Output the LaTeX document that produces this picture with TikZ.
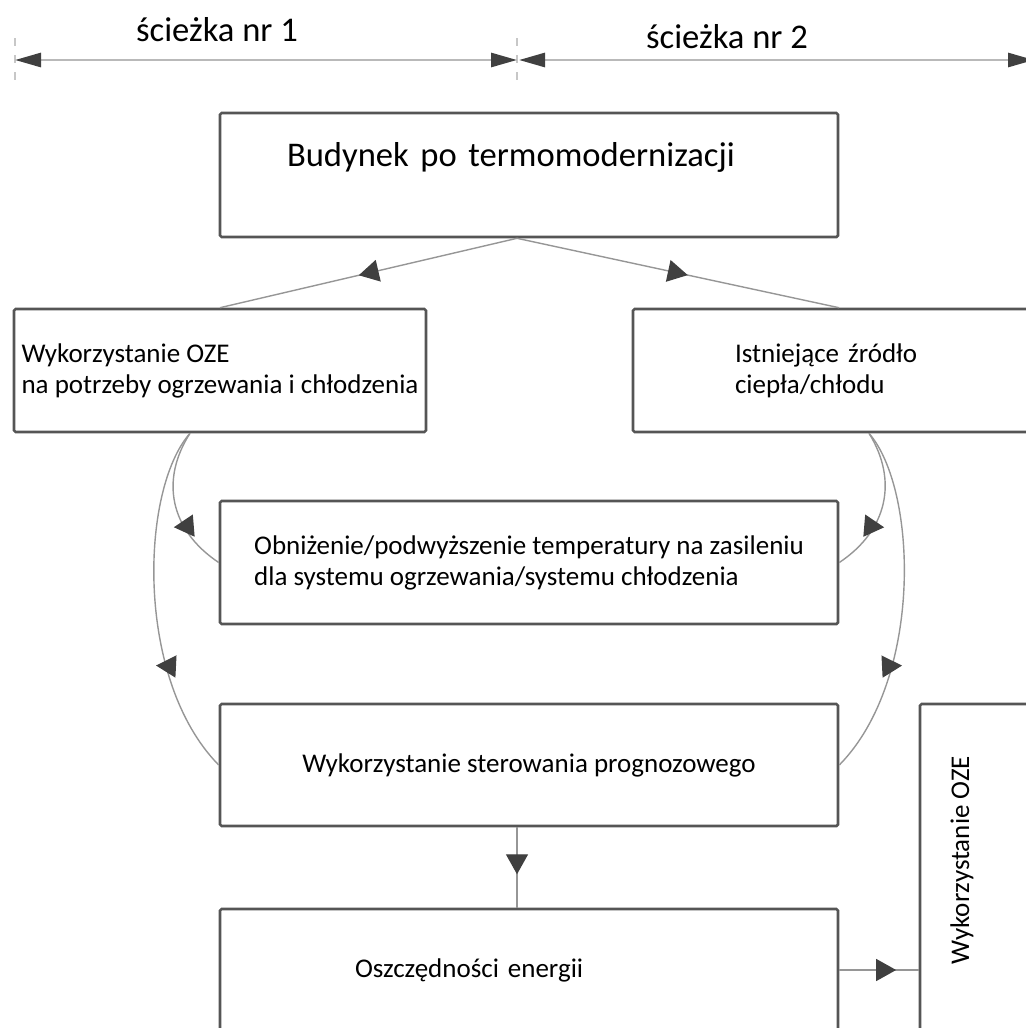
\documentclass[tikz,border=0pt]{standalone}
\usepackage{fontspec}
\setmainfont{Carlito}
\usetikzlibrary{arrows.meta,decorations.markings}

\definecolor{rama}{RGB}{85,85,85}
\definecolor{linia}{RGB}{150,150,150}
\definecolor{ciemny}{RGB}{64,64,64}
\definecolor{miara}{RGB}{185,185,185}

\tikzset{
  blok/.style={draw=rama, line width=1.3pt, rounded corners=0.8pt, align=left,
    font=\fontsize{13.5}{15.5}\selectfont},
  polacz/.style={draw=linia, line width=0.7pt},
  grot/.style 2 args={postaction={decorate}, decoration={markings,
    mark=at position #1 with {\pgftransformrotate{#2}\pgftransformxshift{5pt}%
      \arrow{Triangle[length=10pt,width=11pt,color=ciemny]}}}},
  wymiar/.style={draw=miara, line width=1.4pt,
    {Triangle[length=13pt,width=7pt,color=ciemny]}-{Triangle[length=13pt,width=7pt,color=ciemny]}},
  kreska/.style={draw=miara!80, line width=1pt, dash pattern=on 4pt off 4.5pt},
  naglowek/.style={font=\fontsize{17.3}{20}\selectfont}
}

\begin{document}
\begin{tikzpicture}[x=0.5pt, y=-0.5pt]
\clip (0,0) rectangle (1026,1028);

% sciezki
\coordinate (m0) at (15,60);
\coordinate (m1) at (517,60);
\coordinate (m2) at (1034,60);
\foreach \x in {15,517}
{
    \draw[kreska] (\x,38) -- (\x,84);
}
\draw[wymiar] (m0) -- (m1);
\draw[wymiar] ([xshift=1pt]m1) -- (m2);
\node[naglowek] (sc1) at (217,30) {ścieżka nr 1};
\node[naglowek] (sc2) at (727,37) {ścieżka nr 2};

% bloki
\node[blok, minimum width=309pt, minimum height=62pt, text width=242pt, inner xsep=33.5pt,
  text depth=21pt, font=\fontsize{17.3}{20}\selectfont] (bud) at (529,175) {Budynek po termomodernizacji};
\node[blok, minimum width=206pt, minimum height=61.5pt, inner xsep=2pt] (oze) at (220,370.5)
  {Wykorzystanie OZE\\na potrzeby ogrzewania i chłodzenia};
\node[blok, minimum width=206pt, minimum height=61.5pt, text width=104pt, inner xsep=51pt] (zrodlo) at (839,370.5)
  {Istniejące źródło\\ciepła/chłodu};
\node[blok, minimum width=309pt, minimum height=61.5pt] (temp) at (529,562.5)
  {Obniżenie/podwyższenie temperatury na zasileniu\\dla systemu ogrzewania/systemu chłodzenia};
\node[blok, minimum width=309pt, minimum height=61pt] (ster) at (529,765) {Wykorzystanie sterowania prognozowego};
\node[blok, minimum width=309pt, minimum height=61pt, text width=174pt, inner xsep=67.5pt] (oszcz) at (529,970)
  {Oszczędności energii};
\node[blok, minimum width=106pt, minimum height=164pt] (oze2) at (1026,868) {};
\node[rotate=90, font=\fontsize{13.5}{15.5}\selectfont] (oze2t) at (962,860) {Wykorzystanie OZE};

% polaczenia
\draw[polacz, grot={0.5}{0}] ([xshift=-6pt]bud.south) -- (oze.north);
\draw[polacz, grot={0.5}{0}] ([xshift=-6pt]bud.south) -- (zrodlo.north);

\draw[polacz, grot={0.66}{-115}] ([xshift=-15pt]oze.south) .. controls (160,480) and (170,530) .. (temp.west);
\draw[polacz, grot={0.68}{-108}] ([xshift=-15pt]oze.south) .. controls (140,490) and (135,680) .. (ster.west);
\draw[polacz, grot={0.66}{115}] ([xshift=15pt]zrodlo.south) .. controls (898,480) and (888,530) .. (temp.east);
\draw[polacz, grot={0.68}{108}] ([xshift=15pt]zrodlo.south) .. controls (918,490) and (923,680) .. (ster.east);

\draw[polacz, grot={0.46}{0}] ([xshift=-6pt]ster.south) -- ([xshift=-6pt]oszcz.north);
\draw[polacz, grot={0.59}{0}] (oszcz.east) -- (oszcz.east -| oze2.west);
\end{tikzpicture}
\end{document}
